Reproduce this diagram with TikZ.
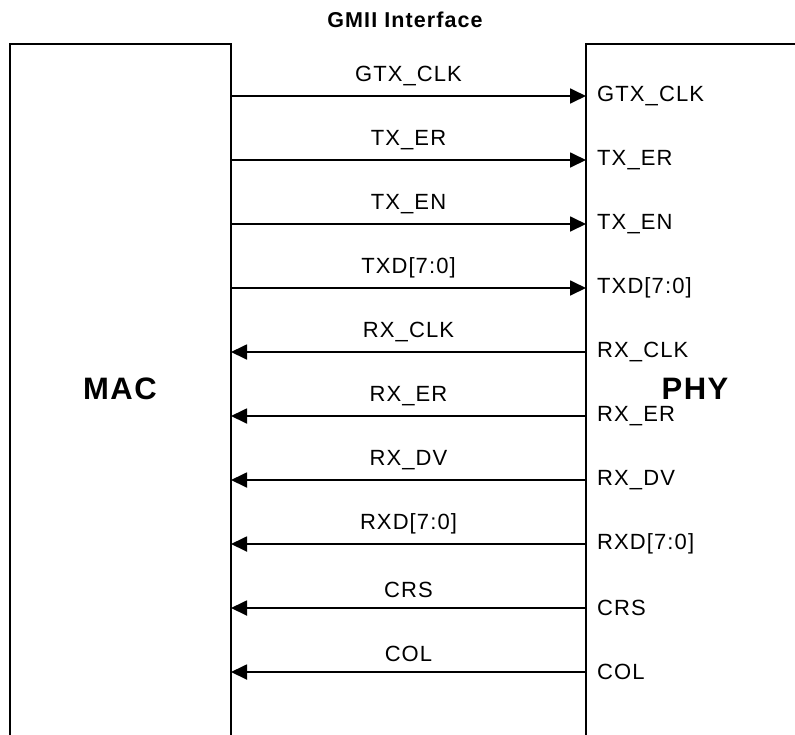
\documentclass[tikz,border=0pt]{standalone}
\usepackage{fontspec}
\setmainfont{Liberation Sans}[LetterSpace=5]
\usetikzlibrary{arrows.meta}
\begin{document}
\begin{tikzpicture}[x=1pt,y=-1pt,
  boxline/.style={line width=1.8pt},
  sig/.style={line width=1.8pt,-{Triangle[length=16pt,width=15pt]}},
  toplbl/.style={font=\fontsize{22}{26}\selectfont,anchor=south,inner sep=0pt,yshift=9pt},
  phylbl/.style={font=\fontsize{22}{26}\selectfont,anchor=west,inner sep=0pt},
  big/.style={font=\fontsize{31}{37}\selectfont\bfseries,inner sep=0pt}]
\useasboundingbox (0,0) rectangle (795,734);
% boxes (open at the bottom / right)
\draw[boxline] (10,737) -- (10,44) -- (231,44) -- (231,737);
\draw[boxline] (586,737) -- (586,44) -- (798,44);
\node[font=\fontsize{21.5}{25}\selectfont\bfseries,inner sep=0pt] (title) at (405,20) {GMII Interface};
\node[big] (mac) at (120,389) {MAC};
\node[big] (phy) at (695,389) {PHY};
% signal endpoints
\foreach \i in {0,...,9}{
  \coordinate (m\i) at (231,96+64*\i);
  \coordinate (p\i) at (586,96+64*\i);
}
% outgoing
\foreach \i/\t in {0/GTX\_CLK,1/TX\_ER,2/TX\_EN,3/TXD[7:0]}{
  \draw[sig] (m\i) -- node[toplbl] (l\i) {\t} (p\i);
  \node[phylbl] (q\i) at ([xshift=11pt]p\i) {\t};
}
% incoming
\foreach \i/\t in {4/RX\_CLK,5/RX\_ER,6/RX\_DV,7/RXD[7:0],8/CRS,9/COL}{
  \draw[sig] (p\i) -- node[toplbl] (l\i) {\t} (m\i);
  \node[phylbl] (q\i) at ([xshift=11pt]p\i) {\t};
}
\end{tikzpicture}
\end{document}
